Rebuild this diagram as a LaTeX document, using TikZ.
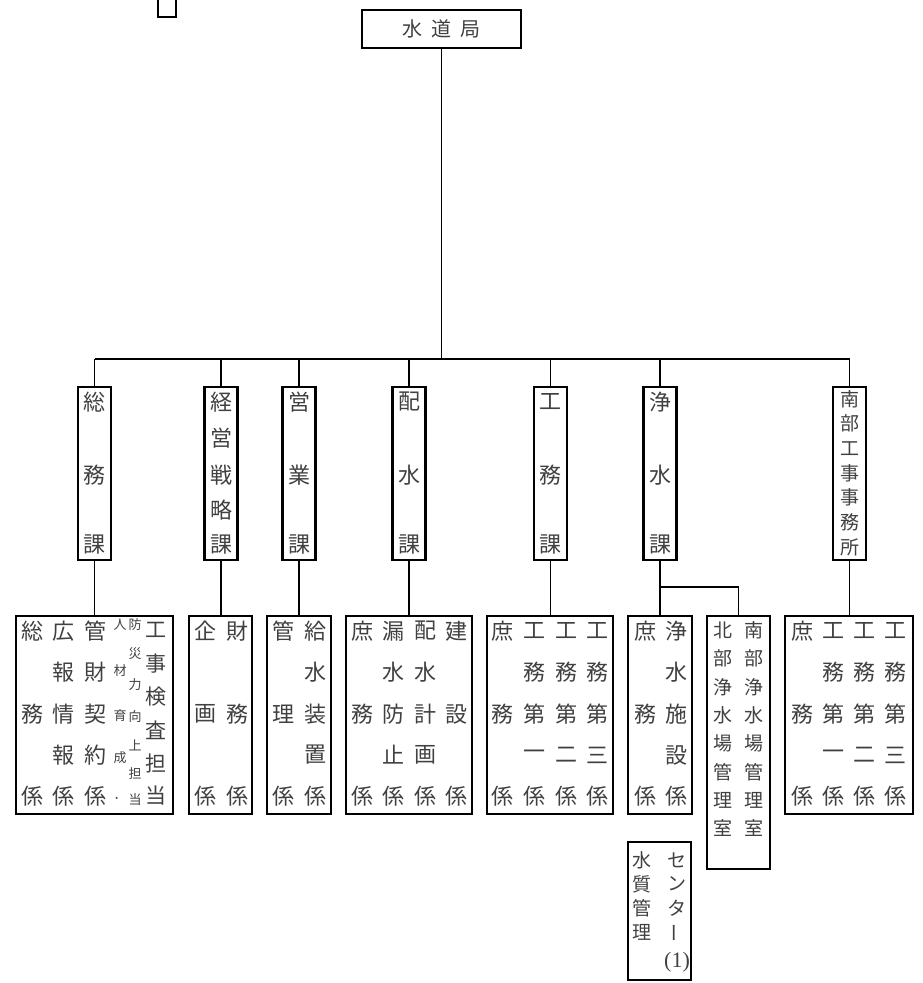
\documentclass[tikz,border=0pt]{standalone}
\usepackage{fontspec}
\setmainfont{Noto Sans CJK JP}
\newfontfamily\serifnum{Liberation Serif}
\newcommand\vcol[4][]{%
  \foreach \yy/\ch [count=\k] in {#4} {\node[txt,#1] (#2-\k) at (#3,\yy) {\ch};}}
\begin{document}
\begin{tikzpicture}[x=1pt,y=-1pt,
  box/.style={draw,line width=2.3pt,inner sep=0pt,fill=none},
  conn/.style={line width=1.9pt},
  txt/.style={inner sep=0pt,text=black!75,font=\fontsize{22}{22}\selectfont},
  mid/.style={font=\fontsize{19}{19}\selectfont},
  sml/.style={font=\fontsize{13}{13}\selectfont},
  big/.style={font=\fontsize{21}{21}\selectfont},
  vbar/.style={rotate=90}]
\useasboundingbox (0,0) rectangle (922,983);

% top partial box
\draw[line width=2.3pt] (158,0) |- (176,17) -- (176,0);

% head
\node[box,minimum width=159pt,minimum height=38pt] (kyoku) at (441.5,29) {};
\node[txt,font=\fontsize{20}{20}\selectfont] (kyokut) at (441.5,29) {水\hspace{9pt}道\hspace{9pt}局};

% section boxes
\foreach \nm/\x in {soumu/94.5,keiei/221,eigyo/299,haisui/409,koumu/550.5,josui/660,nanbu/849.5}
  {\node[box,minimum width=33pt,minimum height=173pt] (\nm) at (\x,473.5) {};}

\vcol{soumut}{94.5}{402/総,475/務,545/課}
\vcol{keieit}{221}{402/経,438/営,475/戦,510/略,545/課}
\vcol{eigyot}{299}{402/営,475/業,545/課}
\vcol{haisuit}{409}{402/配,475/水,545/課}
\vcol{koumut}{550.5}{402/工,475/務,545/課}
\vcol{josuit}{660}{402/浄,475/水,545/課}
\vcol[mid]{nanbut}{849.5}{399/南,423.7/部,448.3/工,473/事,497.7/事,522.3/務,547/所}

% bus
\coordinate (busL) at (94.5,359);
\coordinate (busR) at (849.5,359);
\draw[conn] (kyoku.south) -- (kyoku.south |- busL);
\draw[conn] (busL) -- (busR);
\foreach \nm in {soumu,keiei,eigyo,haisui,koumu,josui,nanbu}
  {\draw[conn] (\nm.north |- busL) -- (\nm.north);}

% group boxes
\node[box,minimum width=157pt,minimum height=198pt] (g1) at (94.5,715) {};
\node[box,minimum width=63pt,minimum height=198pt] (g2) at (220.5,715) {};
\node[box,minimum width=64pt,minimum height=198pt] (g3) at (299,715) {};
\node[box,minimum width=126pt,minimum height=198pt] (g4) at (409,715) {};
\node[box,minimum width=126pt,minimum height=198pt] (g5) at (550,715) {};
\node[box,minimum width=64pt,minimum height=198pt] (g6) at (660,715) {};
\node[box,minimum width=63pt,minimum height=253pt] (g7) at (738.5,742.5) {};
\node[box,minimum width=128pt,minimum height=198pt] (g8) at (849,715) {};
\node[box,minimum width=63pt,minimum height=138pt] (g9) at (659.5,911) {};

% connectors to groups
\draw[conn] (soumu.south) -- (g1.north -| soumu.south);
\draw[conn] (keiei.south) -- (g2.north -| keiei.south);
\draw[conn] (eigyo.south) -- (g3.north -| eigyo.south);
\draw[conn] (haisui.south) -- (g4.north -| haisui.south);
\draw[conn] (koumu.south) -- (g5.north -| koumu.south);
\draw[conn] (josui.south) -- (g6.north -| josui.south);
\coordinate (br) at (660,587);
\draw[conn] (br) -| (g7.north);
\draw[conn] (nanbu.south) -- (g8.north -| nanbu.south);

% group 1 (soumu)
\vcol{a1}{32}{631/総,714/務,796/係}
\vcol{a2}{63}{631/広,672/報,714/情,755/報,796/係}
\vcol{a3}{95}{631/管,672/財,714/契,755/約,796/係}
\vcol[sml]{a4}{120}{625/人,671/材,716/育,758/成,798/．}
\vcol[sml]{a5}{135}{625/防,654/災,685/力,717/向,745/上,773/担,800/当}
\vcol[big]{a6}{156}{630/工,664/事,697/検,730/査,763/担,796/当}
% group 2
\vcol{b1}{205}{631/企,714/画,796/係}
\vcol{b2}{237}{631/財,714/務,796/係}
% group 3
\vcol{c1}{283}{631/管,714/理,796/係}
\vcol{c2}{315}{631/給,672/水,714/装,755/置,796/係}
% group 4
\vcol{d1}{362}{631/庶,714/務,796/係}
\vcol{d2}{393}{631/漏,672/水,714/防,755/止,796/係}
\vcol{d3}{425}{631/配,672/水,714/計,755/画,796/係}
\vcol{d4}{456}{631/建,714/設,796/係}
% group 5
\vcol{e1}{502}{631/庶,714/務,796/係}
\vcol{e2}{534}{631/工,672/務,714/第,755/一,796/係}
\vcol{e3}{566}{631/工,672/務,714/第,755/二,796/係}
\vcol{e4}{597}{631/工,672/務,714/第,755/三,796/係}
% group 6
\vcol{f1}{645}{631/庶,714/務,796/係}
\vcol{f2}{676}{631/浄,672/水,714/施,755/設,796/係}
% group 7
\vcol[mid]{h1}{723}{630/北,658.5/部,687/浄,715/水,743.5/場,772/管,800/理,828.5/室}
\vcol[mid]{h2}{754}{630/南,658.5/部,687/浄,715/水,743.5/場,772/管,800/理,828.5/室}
% group 8
\vcol{k1}{802}{631/庶,714/務,796/係}
\vcol{k2}{833}{631/工,672/務,714/第,755/一,796/係}
\vcol{k3}{864}{631/工,672/務,714/第,755/二,796/係}
\vcol{k4}{895}{631/工,672/務,714/第,755/三,796/係}
% group 9
\vcol[mid]{m1}{642}{860/水,884/質,908/管,932/理}
\vcol[mid]{m2}{677}{860/セ,884/ン,908/タ}
\node[txt,mid,vbar] (m2-4) at (677,933) {ー};
\node[txt,font=\serifnum\fontsize{22}{22}\selectfont] (m2-5) at (677,962) {(1)};
\end{tikzpicture}
\end{document}
